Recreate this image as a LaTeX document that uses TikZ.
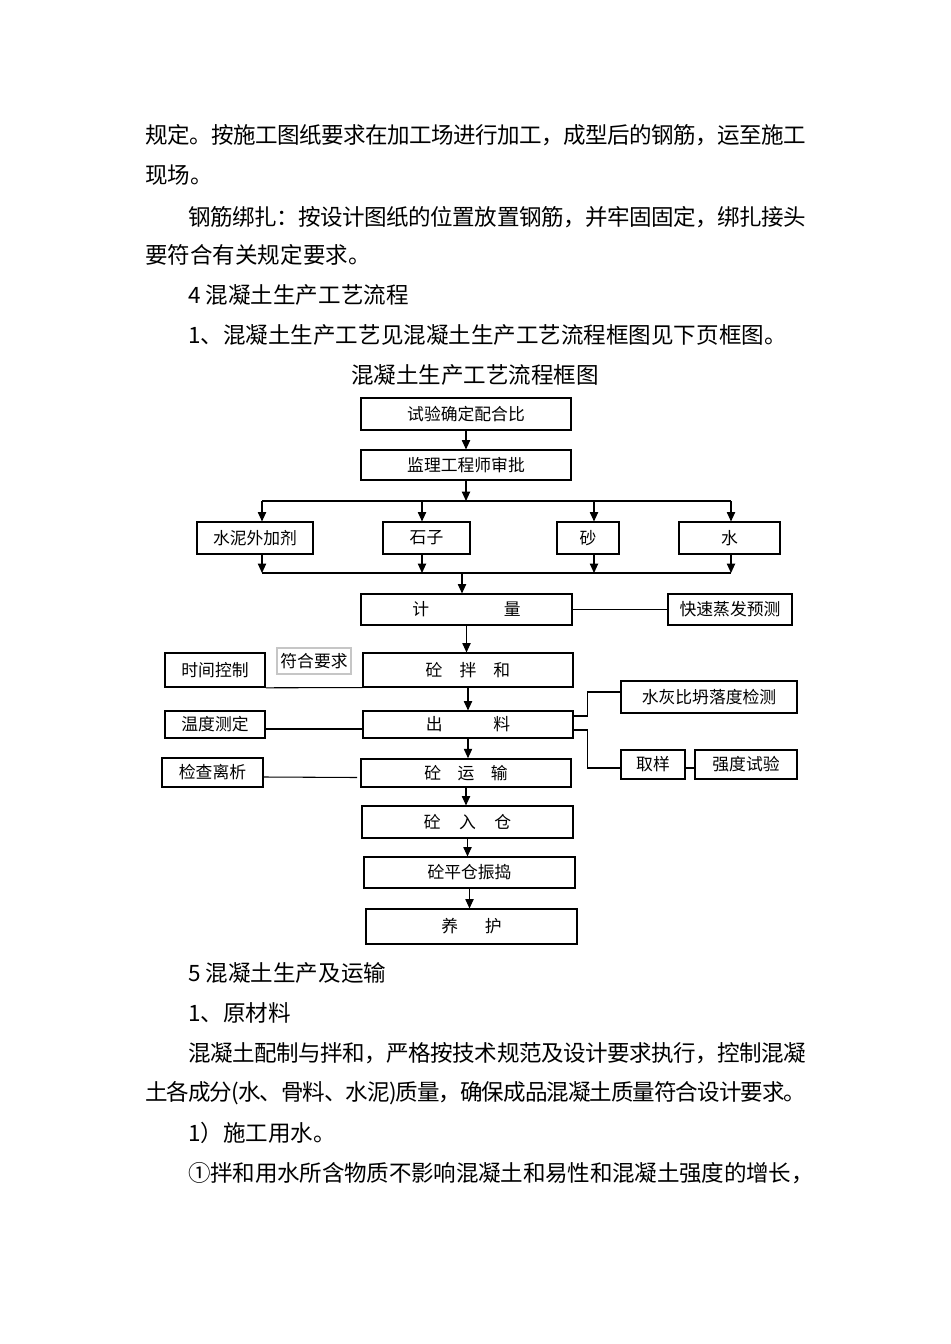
\documentclass[tikz,border=0pt]{standalone}
\usepackage{fontspec}
\setmainfont{Noto Sans CJK SC}
\usetikzlibrary{arrows.meta,calc}
\def\gobbleone#1{}
\def\spreadi#1#2{#1\ifx\relax#2\expandafter\gobbleone\else\hskip 0pt plus 1fil minus 1fil\relax\fi\spreadi#2}
\newcommand\jline[2]{\makebox[#1][s]{\spreadi#2\relax}}
\newcommand\bx[7][]{\node[bx,#1, minimum width={(#5-#3)*0.75pt}, minimum height={(#6-#4)*0.75pt}] (#2) at ({(#3+#5)/2},{(#4+#6)/2}) {#7};}
\begin{document}
\begin{tikzpicture}[x=0.75pt,y=-0.75pt,
  bx/.style={draw, line width=0.8pt, inner sep=0pt, font=\fontsize{12.6pt}{14pt}\selectfont},
  heavy/.style={line width=1.2pt},
  arr/.style={line width=0.8pt, -{Triangle[length=7pt,width=6.2pt]}},
  ln/.style={line width=0.8pt},
  body/.style={anchor=west, inner sep=0pt, font=\fontsize{16.9pt}{20pt}\selectfont}]
\fill[white] (0,0) rectangle (950,1344);
\useasboundingbox (0,0) rectangle (950,1344);

% body text above
\node[body] (l1) at (145,135) {\jline{495.75pt}{规定。按施工图纸要求在加工场进行加工，成型后的钢筋，运至施工}};
\node[body] (l2) at (145,175) {现场。};
\node[body] (l3) at (188,217) {\jline{463.5pt}{钢筋绑扎：按设计图纸的位置放置钢筋，并牢固固定，绑扎接头}};
\node[body] (l4) at (145,255) {要符合有关规定要求。};
\node[body] (l5) at (188,295) {4 混凝土生产工艺流程};
\node[body] (l6) at (188,335) {1、混凝土生产工艺见混凝土生产工艺流程框图见下页框图。};
\node[inner sep=0pt, font=\fontsize{16.9pt}{20pt}\selectfont] (title) at (475,375) {混凝土生产工艺流程框图};

% diagram boxes
\bx{a}{361}{398}{571}{430}{试验确定配合比}
\bx{b}{361}{450}{571}{480}{监理工程师审批}
\bx{c1}{197}{522}{313}{554}{水泥外加剂}
\bx{c2}{383}{522}{470}{554}{石子}
\bx{c3}{557}{522}{619}{554}{砂}
\bx{c4}{679}{522}{780}{554}{水}
\bx{d}{361}{594}{572}{625}{计\hspace{56pt}量}
\bx[heavy]{fast}{668}{594}{792}{625}{快速蒸发预测}
\bx{mix}{363}{653}{573}{687}{砼\hspace{12.8pt}拌\hspace{12.8pt}和}
\bx[heavy]{time}{165}{653}{265}{687}{时间控制}
\node[draw=gray!45, line width=0.8pt, inner sep=0pt, font=\fontsize{12.6pt}{14pt}\selectfont,
      minimum width={74*0.75pt}, minimum height={26*0.75pt}] (ok) at (314,661) {符合要求};
\bx{out}{363}{711}{573}{738}{出\hspace{38pt}料}
\bx{temp}{165}{711}{265}{738}{温度测定}
\bx{wc}{621}{681}{797}{713}{水灰比坍落度检测}
\bx{samp}{621}{750}{685}{779}{取样}
\bx{str}{695}{750}{797}{779}{强度试验}
\bx[heavy]{trans}{361}{759}{571}{787}{砼\hspace{12.4pt}运\hspace{12.4pt}输}
\bx[heavy]{chk}{162}{758}{263}{787}{检查离析}
\bx{in}{362}{806}{573}{838}{砼\hspace{13.9pt}入\hspace{13.9pt}仓}
\bx{vib}{364}{857}{575}{888}{砼平仓振捣}
\bx{cure}{366}{909}{577}{944}{养\hspace{20pt}护}

% top chain
\draw[arr] (a.south) -- (b.north);
\coordinate (bl) at (262,501);
\coordinate (s2) at (422,501);
\coordinate (s3) at (594,501);
\coordinate (br) at (731,501);
\draw[arr] (b.south) -- (b.south |- bl);
\draw[ln] (bl) -- (br);
\draw[arr] (bl) -- (bl |- c1.north);
\draw[arr] (s2) -- (s2 |- c2.north);
\draw[arr] (s3) -- (s3 |- c3.north);
\draw[arr] (br) -- (br |- c4.north);
\coordinate (ql) at (262,573);
\coordinate (q2) at (422,573);
\coordinate (q3) at (594,573);
\coordinate (qr) at (731,573);
\coordinate (qm) at (462,573);
\draw[arr] (ql |- c1.south) -- (ql);
\draw[arr] (q2 |- c2.south) -- (q2);
\draw[arr] (q3 |- c3.south) -- (q3);
\draw[arr] (qr |- c4.south) -- (qr);
\draw[ln] (ql) -- (qr);
\draw[arr] (qm) -- (qm |- d.north);

% main chain
\draw[arr] (d.south) -- (d.south |- mix.north);
\draw[arr] (mix.south) -- (mix.south |- out.north);
\draw[arr] (out.south) -- (out.south |- trans.north);
\draw[arr] (trans.south) -- (trans.south |- in.north);
\draw[arr] (in.south) -- (in.south |- vib.north);
\draw[arr] (vib.south) -- (vib.south |- cure.north);

% side connectors
\draw[ln] (d.east) -- (fast.west);
\draw[ln] (time.south east) -- (mix.south west);
\draw[ln] ($(temp.east)+(0,4.5)$) -- ($(out.west)+(0,4.5)$);
\draw[ln] ($(chk.east)+(0,4.5)$) -- ($(trans.west)+(-3,4.5)$);
\draw[ln] ($(out.east)+(0,-8.5)$) -- ++(14,0) |- ($(wc.west)+(0,-5)$);
\draw[ln] ($(out.east)+(0,5.5)$) -- ++(14,0) |- ($(samp.west)+(0,3.5)$);
\draw[ln] ($(samp.east)+(0,3.5)$) -- ($(str.west)+(0,3.5)$);

% body text below
\node[body] (m1) at (188,973) {5 混凝土生产及运输};
\node[body] (m2) at (188,1013) {1、原材料};
\node[body] (m3) at (188,1053) {\jline{463.5pt}{混凝土配制与拌和，严格按技术规范及设计要求执行，控制混凝}};
\node[body] (m4) at (145,1093) {\jline{495.75pt}{土各成分(水、骨料、水泥)质量，确保成品混凝土质量符合设计要求。}};
\node[body] (m5) at (188,1133) {1）施工用水。};
\node[body] (m6) at (188,1173) {\jline{469pt}{①拌和用水所含物质不影响混凝土和易性和混凝土强度的增长，}};
\end{tikzpicture}
\end{document}
